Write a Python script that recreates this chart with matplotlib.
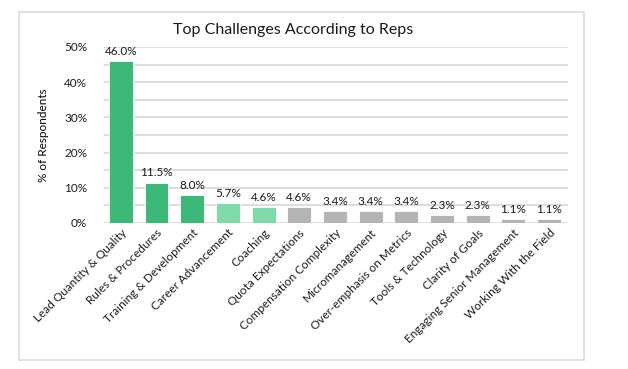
import numpy as np
import matplotlib.pyplot as plt
from matplotlib.patches import Rectangle

categories = ['Lead Quantity & Quality', 'Rules & Procedures', 'Training & Development',
              'Career Advancement', 'Coaching', 'Quota Expectations',
              'Compensation Complexity', 'Micromanagement', 'Over-emphasis on Metrics',
              'Tools & Technology', 'Clarity of Goals', 'Engaging Senior Management',
              'Working With the Field']
values = [46.0, 11.5, 8.0, 5.7, 4.6, 4.6, 3.4, 3.4, 3.4, 2.3, 2.3, 1.1, 1.1]
groups = ['dark', 'dark', 'dark', 'light', 'light', 'gray', 'gray', 'gray', 'gray',
          'gray', 'gray', 'gray', 'gray']

palette = {'dark': '#3cb878', 'light': '#7fd9a9', 'gray': '#b4b4b4'}

plt.rcParams['font.family'] = ['Lato', 'DejaVu Sans']
plt.rcParams['text.color'] = '#1a1a1a'

fig = plt.figure(figsize=(6.28, 3.69), dpi=100)
ax = fig.add_axes([104/628, 1 - 223/369, 464/628, 176/369])

# outer chart border
fig.patches.append(Rectangle((19/628, 1 - 360/369), 565/628, 348/369,
                             transform=fig.transFigure, fill=False,
                             edgecolor='#dcdcdc', linewidth=1.2))

ind = np.arange(len(values))
bars = ax.bar(ind, values, 0.67, color=[palette[g] for g in groups],
              edgecolor='white', linewidth=0.6, zorder=3)

for rect, v in zip(bars, values):
    ax.text(rect.get_x() + rect.get_width()/2, v + 1.2, '{:.1f}%'.format(v),
            ha='center', va='bottom', fontsize=8.5)

ax.set_ylim(0, 50)
ax.set_xlim(-0.47, 12.53)
ax.set_yticks(np.arange(0, 51, 10))
ax.set_yticklabels(['{}%'.format(t) for t in range(0, 51, 10)], fontsize=8.5,
                   color='#1a1a1a')
ax.set_yticks(np.arange(5, 50, 10), minor=True)
ax.grid(axis='y', which='both', color='#dadada', linewidth=1.3, zorder=0)
ax.tick_params(axis='y', which='both', length=0, pad=12)
ax.tick_params(axis='x', length=0, pad=3)

ax.set_xticks(ind)
ax.set_xticklabels(categories, rotation=45, ha='right', rotation_mode='anchor',
                   fontsize=8.5, color='#1a1a1a')

for s in ax.spines.values():
    s.set_visible(False)

ax.set_ylabel('% of Respondents', fontsize=8.5, labelpad=11)
fig.text(293/628, 1 - 30/369, 'Top Challenges According to Reps', ha='center',
         va='center', fontsize=11.5)

fig.savefig('out.png', dpi=100)
